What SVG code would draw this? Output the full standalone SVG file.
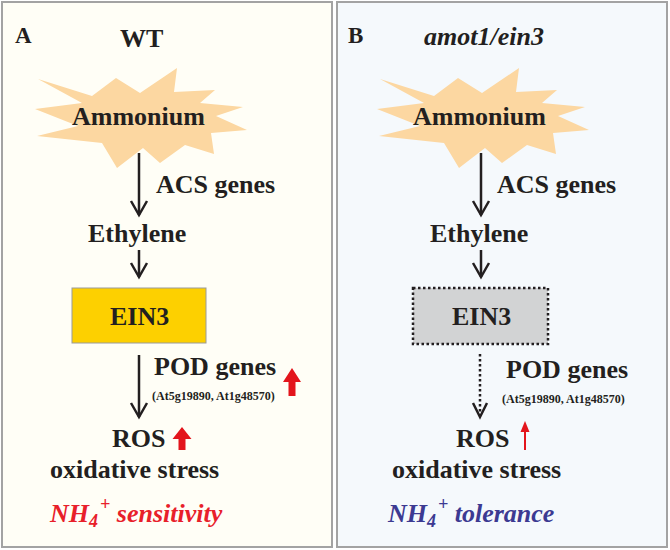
<svg xmlns="http://www.w3.org/2000/svg" width="670" height="550" viewBox="0 0 670 550" font-family="'Liberation Serif', 'DejaVu Serif', serif">
<defs>
<style>
text{font-family:'Liberation Serif','DejaVu Serif',serif}
.t{font-weight:bold;fill:#231f20;font-size:26px}
.sm{font-size:12px}
.lab{font-size:23px}
.it{font-style:italic}
.ln{stroke:#231f20;stroke-width:2.5;fill:none}
.dot{stroke-dasharray:2.5 2.5;stroke-width:2.5}
.star{fill:#fcd7a1}
.frame{stroke:#a3a3a3;stroke-width:2}
.red{fill:#e3151c}
</style>
<polygon id="burst" class="star" points="38,79 92,96 116,78 140,93 177,68 174,92 215,90 200,103 243,107 216,116 247,130 211,133 214,154 185,145 160,163 143,148 117,168 102,143 37,136 78,126 35,109 82,103"/>
</defs>

<g id="panelA">
<rect class="frame" x="2" y="2" width="330" height="545" fill="#fffef6"/>
<text class="t lab" x="15" y="43">A</text>
<text class="t" x="120" y="47">WT</text>
</g>
<g id="panelB">
<rect class="frame" x="337" y="2" width="330" height="545" fill="#f5f9fc"/>
<text class="t lab" x="348" y="43">B</text>
<text class="t it" x="424" y="45">amot1/ein3</text>
</g>

<g id="A-ammonium">
<use href="#burst"/>
<text class="t" x="72" y="125">Ammonium</text>
</g>
<g id="A-ethylene"><text class="t" x="88" y="242">Ethylene</text></g>
<g id="A-ein3">
<rect x="72" y="288" width="134" height="55" fill="#fdd000" stroke="#9a9a9a" stroke-width="1"/>
<text class="t" x="110" y="325">EIN3</text>
</g>
<g id="A-ros">
<text class="t" x="112" y="447">ROS</text>
<polygon class="red" points="182,427 191.5,439 185.5,439 185.5,450 178.5,450 178.5,439 172.5,439"/>
<text class="t" x="50" y="478">oxidative stress</text>
</g>
<g id="A-result">
<text class="t it" x="50" y="522" style="fill:#e8202a">NH<tspan font-size="18" dy="5">4</tspan><tspan font-size="18" dx="2" dy="-17">+</tspan><tspan dy="12"> sensitivity</tspan></text>
</g>

<g id="B-ammonium">
<use href="#burst" transform="translate(342,0)"/>
<text class="t" x="413" y="125">Ammonium</text>
</g>
<g id="B-ethylene"><text class="t" x="430" y="242">Ethylene</text></g>
<g id="B-ein3">
<rect x="413" y="288" width="135" height="56" fill="#d2d3d4" stroke="#231f20" stroke-width="2.5" stroke-dasharray="2.5 2.5"/>
<text class="t" x="452" y="325">EIN3</text>
</g>
<g id="B-ros">
<text class="t" x="456" y="447">ROS</text>
<text class="t" x="392" y="478">oxidative stress</text>
</g>
<g id="B-result">
<text class="t it" x="388" y="522" style="fill:#3c3a92">NH<tspan font-size="18" dy="5">4</tspan><tspan font-size="18" dx="2" dy="-17">+</tspan><tspan dy="12"> tolerance</tspan></text>
</g>

<g id="connectors">
<line class="ln" x1="139" y1="153" x2="139" y2="215"/>
<polyline class="ln" points="131,201 139,215 147,201"/>
<text class="t" x="156" y="193">ACS genes</text>
<line class="ln" x1="139" y1="250" x2="139" y2="277"/>
<polyline class="ln" points="131,263 139,277 147,263"/>
<line class="ln" x1="139" y1="355" x2="139" y2="417"/>
<polyline class="ln" points="131,403 139,417 147,403"/>
<text class="t" x="154" y="375">POD genes</text>
<text class="t sm" x="152" y="400">(At5g19890, At1g48570)</text>
<polygon class="red" points="292,368 301,382 295.5,382 295.5,396 288.5,396 288.5,382 283,382"/>

<line class="ln" x1="481" y1="153" x2="481" y2="215"/>
<polyline class="ln" points="473,201 481,215 489,201"/>
<text class="t" x="497" y="193">ACS genes</text>
<line class="ln" x1="481" y1="250" x2="481" y2="277"/>
<polyline class="ln" points="473,263 481,277 489,263"/>
<line class="ln dot" x1="480" y1="354" x2="480" y2="416"/>
<polyline class="ln" points="473,403 480,417 487,403"/>
<text class="t" x="506" y="378">POD genes</text>
<text class="t sm" x="502" y="403">(At5g19890, At1g48570)</text>
<line x1="525" y1="450" x2="525" y2="428" stroke="#e3151c" stroke-width="2"/>
<polygon class="red" points="525,421 529.5,432 520.5,432"/>
</g>
</svg>
